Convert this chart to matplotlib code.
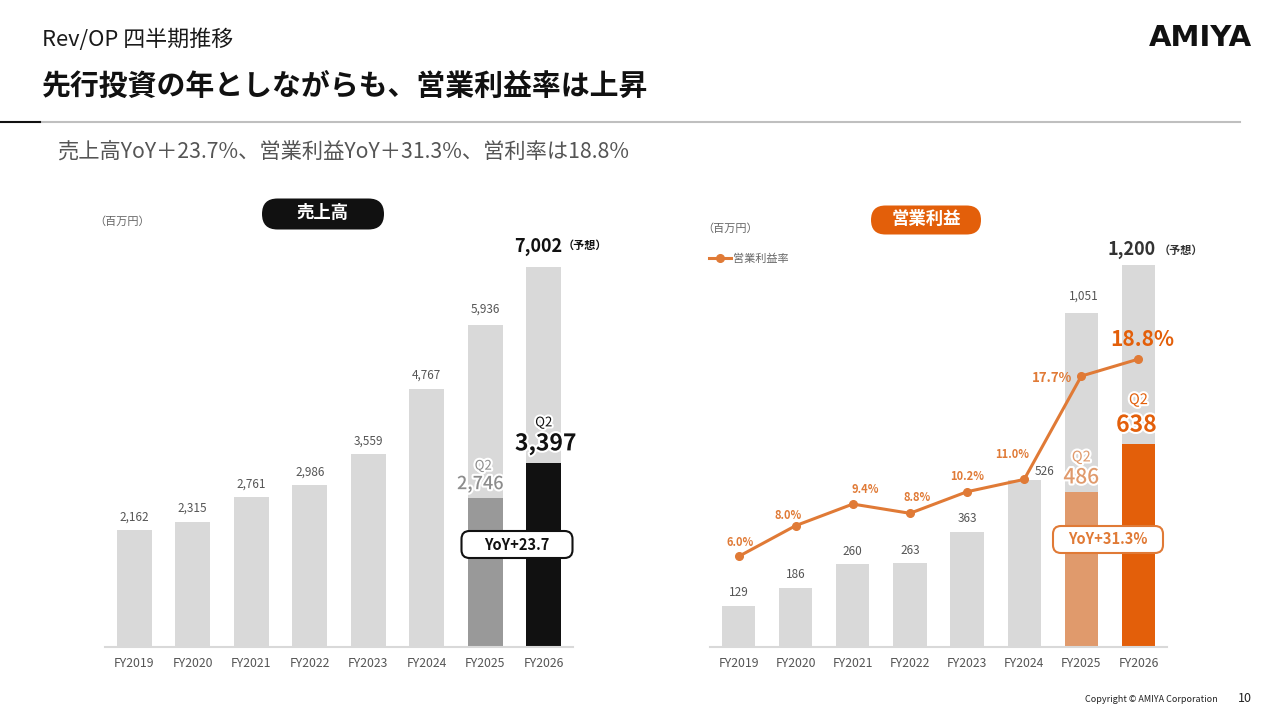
import numpy as np
import matplotlib.pyplot as plt
from matplotlib.patches import FancyBboxPatch
import matplotlib.patheffects as pe

plt.rcParams['font.family'] = ['Noto Sans CJK JP', 'DejaVu Sans']

'''データ'''
years = ['FY2019', 'FY2020', 'FY2021', 'FY2022', 'FY2023', 'FY2024', 'FY2025', 'FY2026']
uriage = [2162, 2315, 2761, 2986, 3559, 4767, 5936, 7002]   # 売上高(百万円)
uriage_q2 = [2746, 3397]                                    # FY2025, FY2026 Q2累計
eigyo = [129, 186, 260, 263, 363, 526, 1051, 1200]          # 営業利益(百万円)
eigyo_q2 = [486, 638]
ritsu = [6.0, 8.0, 9.4, 8.8, 10.2, 11.0, 17.7, 18.8]        # 営業利益率(%)
yoy_uriage = 23.7
yoy_eigyo = 31.3

GRAY = '#d9d9d9'
ORANGE = '#e35f0a'
ORANGE_L = '#e09a6c'
LINE_C = '#e07a36'

W, H = 1280, 720
fig = plt.figure(figsize=(12.8, 7.2), dpi=100)
glow = [pe.withStroke(linewidth=3, foreground='white')]

# ピクセル座標で描くための透明な重ね合わせ用axes
ov = fig.add_axes([0, 0, 1, 1], zorder=10)
ov.set_xlim(0, W)
ov.set_ylim(H, 0)
ov.axis('off')
ov.patch.set_alpha(0)


def pill(cx, cy, w, h, fc, ec, lw=0, r=None):
    if r is None:
        r = h / 2
    ov.add_patch(FancyBboxPatch((cx - w / 2 + r, cy - h / 2 + r), w - 2 * r, h - 2 * r,
                                boxstyle='round,pad=%f,rounding_size=%f' % (r, r),
                                fc=fc, ec=ec, lw=lw))


'''ヘッダー'''
ov.text(42, 40, 'Rev/OP 四半期推移', fontsize=15.8, color='#1a1a1a', va='center')
ov.text(42, 86, '先行投資の年としながらも、営業利益率は上昇', fontsize=20.8, fontweight='bold',
        color='#111111', va='center')
ov.text(1252, 38, 'AMIYA', fontsize=21, fontweight='bold', color='#111111', va='center', ha='right',
        family=['DejaVu Sans'])
ov.plot([40, 1240], [122, 122], color='#bfbfbf', lw=1.5)
ov.plot([0, 40], [122, 122], color='#111111', lw=1.5)
ov.text(57, 152, '売上高YoY＋23.7%、営業利益YoY＋31.3%、営利率は18.8%', fontsize=15.3,
        color='#555555', va='center')
ov.text(1218, 700, 'Copyright © AMIYA Corporation', fontsize=6.5, color='#222222', va='center', ha='right')
ov.text(1245, 699, '10', fontsize=9, color='#222222', va='center', ha='center')

x = np.arange(len(years))

'''売上高'''
ax1 = fig.add_axes([105 / W, 1 - 647 / H, 468 / W, 447 / H])
ax1.bar(x, uriage, width=0.6, color=GRAY, zorder=1)
ax1.bar(x[-2:], uriage_q2, width=0.6, color=['#999999', '#111111'], zorder=2)
ax1.set_xlim(-0.5, 7.5)
ax1.set_ylim(0, 447 / 0.0542)
for i in range(6):
    ax1.annotate(f'{uriage[i]:,}', (x[i], uriage[i]), xytext=(0, 13), textcoords='offset pixels',
                 ha='center', va='center', fontsize=8.5, color='#555555')
ax1.annotate(f'{uriage[6]:,}', (x[6], uriage[6]), xytext=(0, 16), textcoords='offset pixels',
             ha='center', va='center', fontsize=8.5, color='#555555')
ax1.annotate(f'{uriage[7]:,}', (x[7], uriage[7]), xytext=(-6, 21), textcoords='offset pixels',
             ha='center', va='center', fontsize=13, fontweight='bold', color='#111111')
ax1.annotate('（予想）', (x[7], uriage[7]), xytext=(41, 22), textcoords='offset pixels',
             ha='center', va='center', fontsize=8, fontweight='bold', color='#111111')
# Q2
ax1.annotate('Q2', (x[6], uriage_q2[0]), xytext=(-2, 32), textcoords='offset pixels',
             ha='center', va='center', fontsize=9.5, color='#8c8c8c', path_effects=glow, zorder=6)
ax1.annotate(f'{uriage_q2[0]:,}', (x[6], uriage_q2[0]), xytext=(-5, 14), textcoords='offset pixels',
             ha='center', va='center', fontsize=13, fontweight='medium', color='#8c8c8c',
             path_effects=glow, zorder=6)
ax1.annotate('Q2', (x[7], uriage_q2[1]), xytext=(0, 40), textcoords='offset pixels',
             ha='center', va='center', fontsize=9.5, color='#111111', path_effects=glow, zorder=6)
ax1.annotate(f'{uriage_q2[1]:,}', (x[7], uriage_q2[1]), xytext=(2, 19), textcoords='offset pixels',
             ha='center', va='center', fontsize=16.5, fontweight='bold', color='#111111',
             path_effects=glow, zorder=6)
ax1.set_xticks(x, years, fontsize=8.8, color='#555555')
ax1.tick_params(axis='x', length=0, pad=7)
ax1.set_yticks([])
for s in ['top', 'right', 'left']:
    ax1.spines[s].set_visible(False)
ax1.spines['bottom'].set_color(GRAY)
ax1.spines['bottom'].set_linewidth(1.5)

pill(323, 214, 122, 31, '#111111', '#111111')
ov.text(323, 213, '売上高', fontsize=12.5, fontweight='bold', color='white', ha='center', va='center')
ov.text(94, 222, '（百万円）', fontsize=8, color='#666666', va='center')
pill(517, 544.5, 111, 27, 'white', '#111111', lw=1.5, r=8)
ov.text(517, 544.5, f'YoY+{yoy_uriage}', fontsize=10.5, fontweight='bold', color='#111111',
        ha='center', va='center')

'''営業利益'''
ax2 = fig.add_axes([710 / W, 1 - 647 / H, 457 / W, 447 / H])
ax2.bar(x, eigyo, width=0.58, color=GRAY, zorder=1)
ax2.bar(x[-2:], eigyo_q2, width=0.58, color=[ORANGE_L, ORANGE], zorder=2)
ax2.set_xlim(-0.5, 7.5)
ax2.set_ylim(0, 447 / 0.318)
for i in range(5):
    ax2.annotate(f'{eigyo[i]:,}', (x[i], eigyo[i]), xytext=(0, 13), textcoords='offset pixels',
                 ha='center', va='center', fontsize=8.5, color='#555555')
ax2.annotate(f'{eigyo[5]:,}', (x[5], eigyo[5]), xytext=(20, 8), textcoords='offset pixels',
             ha='center', va='center', fontsize=8.5, color='#555555')
ax2.annotate(f'{eigyo[6]:,}', (x[6], eigyo[6]), xytext=(2, 17), textcoords='offset pixels',
             ha='center', va='center', fontsize=8.5, color='#555555')
ax2.annotate(f'{eigyo[7]:,}', (x[7], eigyo[7]), xytext=(-7, 16), textcoords='offset pixels',
             ha='center', va='center', fontsize=13, fontweight='bold', color='#333333')
ax2.annotate('（予想）', (x[7], eigyo[7]), xytext=(42, 15), textcoords='offset pixels',
             ha='center', va='center', fontsize=8, fontweight='bold', color='#333333')
ax2.annotate('Q2', (x[6], eigyo_q2[0]), xytext=(0, 35), textcoords='offset pixels',
             ha='center', va='center', fontsize=10.5, color=ORANGE_L, path_effects=glow, zorder=6)
ax2.annotate(f'{eigyo_q2[0]:,}', (x[6], eigyo_q2[0]), xytext=(0, 15), textcoords='offset pixels',
             ha='center', va='center', fontsize=15, fontweight='medium', color=ORANGE_L,
             path_effects=glow, zorder=6)
ax2.annotate('Q2', (x[7], eigyo_q2[1]), xytext=(0, 44), textcoords='offset pixels',
             ha='center', va='center', fontsize=10.5, color=ORANGE, path_effects=glow, zorder=6)
ax2.annotate(f'{eigyo_q2[1]:,}', (x[7], eigyo_q2[1]), xytext=(-2, 19), textcoords='offset pixels',
             ha='center', va='center', fontsize=16.5, fontweight='bold', color=ORANGE,
             path_effects=glow, zorder=6)
ax2.set_xticks(x, years, fontsize=8.8, color='#555555')
ax2.tick_params(axis='x', length=0, pad=7)
ax2.set_yticks([])
for s in ['top', 'right', 'left']:
    ax2.spines[s].set_visible(False)
ax2.spines['bottom'].set_color(GRAY)
ax2.spines['bottom'].set_linewidth(1.5)

ax3 = ax2.twinx()
ax3.set_ylim(0.13, 0.13 + 447 / 15.42)
ax3.plot(x, ritsu, color=LINE_C, lw=2.2, marker='o', ms=5.5, zorder=4, label='営業利益率')
ax3.axis('off')
lbl_off = [(2, 14), (-8, 10), (12, 15), (7, 16), (0, 15), (-12, 25), (-9, -2), (4, 20)]
for i, v in enumerate(ritsu):
    fs = 8
    if i == 6:
        fs = 9.5
    if i == 7:
        fs = 15
    ax3.annotate(f'{v:.1f}%', (x[i], v), xytext=lbl_off[i], textcoords='offset pixels',
                 ha='right' if i == 6 else 'center', va='center', fontsize=fs,
                 fontweight='bold', color=ORANGE if i == 7 else LINE_C, zorder=6)
ax3.legend(loc='center left', bbox_to_anchor=(709 / W, 1 - 259 / H), bbox_transform=fig.transFigure,
           frameon=False, fontsize=8, handlelength=2.0, handletextpad=0.15, labelcolor='#666666',
           borderaxespad=0, borderpad=0)

pill(926, 220, 110, 29, ORANGE, ORANGE)
ov.text(926, 219, '営業利益', fontsize=12.5, fontweight='bold', color='white', ha='center', va='center')
ov.text(702, 229, '（百万円）', fontsize=8, color='#666666', va='center')
pill(1108, 539.5, 110, 27, 'white', LINE_C, lw=1.5, r=8)
ov.text(1108, 539.5, f'YoY+{yoy_eigyo}%', fontsize=10.5, fontweight='bold', color=LINE_C,
        ha='center', va='center')

fig.savefig('out.png', dpi=100)
